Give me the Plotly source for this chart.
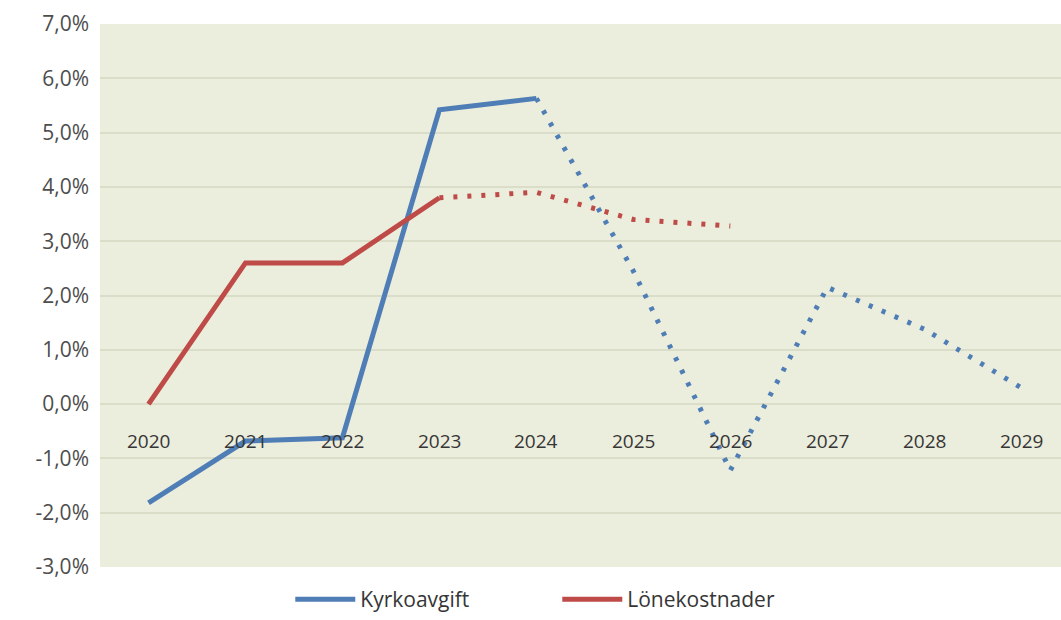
import plotly.graph_objects as go

# Årlig förändring (%)
years = ["2020", "2021", "2022", "2023", "2024", "2025", "2026", "2027", "2028", "2029"]

kyrko_utfall = [-1.82, -0.68, -0.62, 5.42, 5.63]          # 2020–2024
kyrko_prognos = [5.63, 2.45, -1.22, 2.15, 1.38, 0.30]     # 2024–2029

lone_utfall = [0.0, 2.6, 2.6, 3.8]                          # 2020–2023
lone_prognos = [3.8, 3.9, 3.4, 3.28]                        # 2023–2026

y_ticks = [-3, -2, -1, 0, 1, 2, 3, 4, 5, 6, 7]
y_ticktext = [f"{v:.1f}%".replace(".", ",") for v in y_ticks]

BLUE = "#4F7DB5"
RED = "#BE4B48"
FONT = "'Open Sans', sans-serif"

idx = {y: i for i, y in enumerate(years)}

fig = go.Figure()

fig.add_trace(go.Scatter(
    x=[idx[y] for y in years[:5]], y=kyrko_utfall, mode="lines",
    line=dict(color=BLUE, width=5), name="Kyrkoavgift", showlegend=True))
fig.add_trace(go.Scatter(
    x=[idx[y] for y in years[4:]], y=kyrko_prognos, mode="lines",
    line=dict(color=BLUE, width=5, dash="4px,10px"), showlegend=False))
fig.add_trace(go.Scatter(
    x=[idx[y] for y in years[:4]], y=lone_utfall, mode="lines",
    line=dict(color=RED, width=5), name="Lönekostnader", showlegend=True))
fig.add_trace(go.Scatter(
    x=[idx[y] for y in years[3:7]], y=lone_prognos, mode="lines",
    line=dict(color=RED, width=5, dash="4px,10px"), showlegend=False))

# Kategorietiketter placerade vid nollinjen
for y in years:
    fig.add_annotation(
        x=idx[y], y=0, text=y, showarrow=False, yanchor="middle", yshift=-37,
        font=dict(family=FONT, size=19, color="#363636"))

fig.update_layout(
    width=1061, height=620,
    margin=dict(l=100, r=0, t=24, b=46),
    paper_bgcolor="white",
    plot_bgcolor="#EBEDDD",
    font=dict(family=FONT, size=19, color="#4D4D4D"),
    xaxis=dict(range=[-0.5, 9.41], showticklabels=False, showgrid=False,
               zeroline=False, fixedrange=True),
    yaxis=dict(range=[-3, 7], tickvals=y_ticks, ticktext=y_ticktext,
               showgrid=True, gridcolor="#DADDC8", gridwidth=1.5,
               zeroline=False, ticks="", ticklabelstandoff=10,
               tickfont=dict(family=FONT, size=21, color="#4D4D4D")),
    legend=dict(orientation="h", x=0.198, xanchor="left", y=-0.06, yanchor="middle",
                font=dict(family=FONT, size=21, color="#363636"),
                itemwidth=60, entrywidth=192, bgcolor="rgba(0,0,0,0)"),
    showlegend=True,
)

fig.write_html("out.html")
